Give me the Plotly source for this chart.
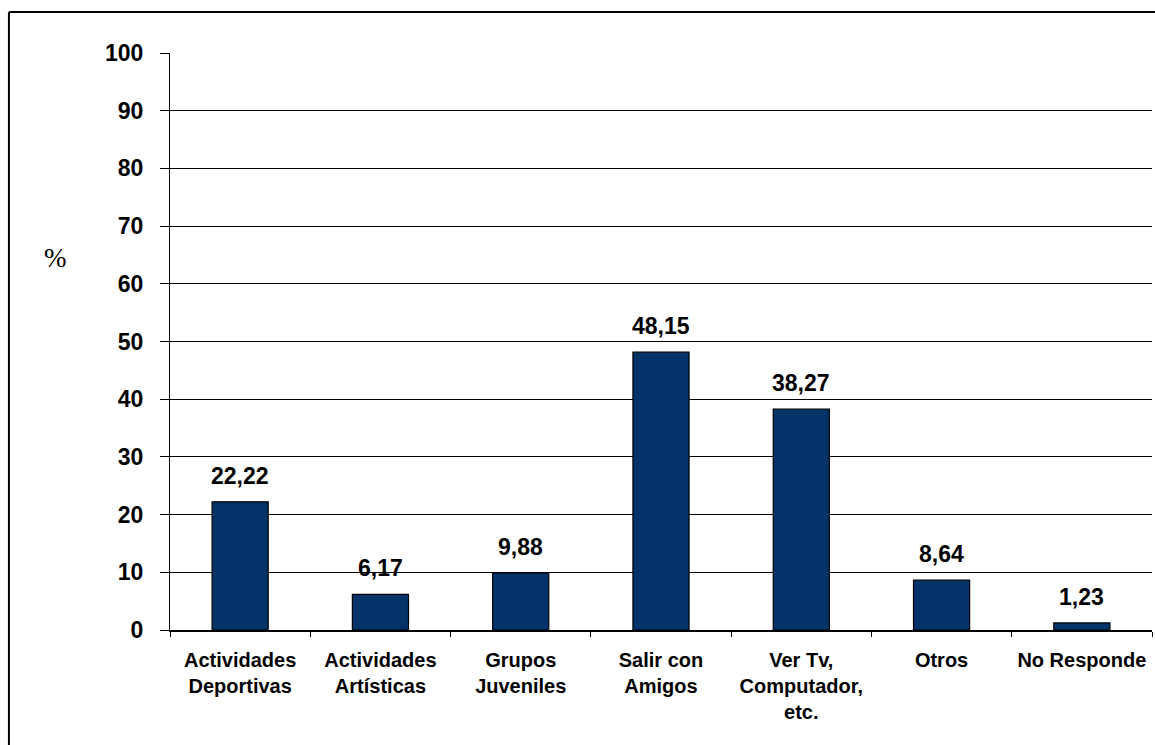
import plotly.graph_objects as go

categories = ["Actividades<br>Deportivas", "Actividades<br>Artísticas", "Grupos<br>Juveniles",
              "Salir con<br>Amigos", "Ver Tv,<br>Computador,<br>etc.", "Otros", "No Responde"]
values = [22.22, 6.17, 9.88, 48.15, 38.27, 8.64, 1.23]
y_ticks = [0, 10, 20, 30, 40, 50, 60, 70, 80, 90, 100]

BAR = "#04336a"
FONT = "Liberation Sans, Arial, sans-serif"

fig = go.Figure()
fig.add_trace(go.Bar(
    x=categories, y=values, width=0.4,
    marker=dict(color=BAR, line=dict(color="black", width=1.2)),
    cliponaxis=False,
))

for c, v in zip(categories, values):
    fig.add_annotation(x=c, y=v, text=f"{v:.2f}".replace(".", ","), showarrow=False,
                       yanchor="bottom", yshift=11,
                       font=dict(family=FONT, size=23, color="black", weight="bold"))

fig.update_layout(
    width=1155, height=745,
    margin=dict(l=170, r=3, t=53, b=115),
    paper_bgcolor="white", plot_bgcolor="white",
    separators=",.",
    showlegend=False,
    font=dict(family=FONT, color="black"),
)
fig.update_yaxes(
    range=[0, 100], tickvals=y_ticks, ticks="outside", ticklen=9, tickcolor="black", tickwidth=1,
    showline=True, linecolor="black", linewidth=1,
    showgrid=True, gridcolor="black", gridwidth=1, zeroline=False,
    tickfont=dict(family=FONT, size=23, color="black", weight="bold"),
    ticklabelstandoff=12,
)
fig.update_xaxes(
    type="category", tickson="boundaries", ticks="outside", ticklen=5, tickcolor="black",
    showline=True, linecolor="black", linewidth=1.5,
    tickfont=dict(family=FONT, size=20, color="black", weight="bold"),
    ticklabelstandoff=11,
)
# "%" axis label
fig.add_annotation(text="%", xref="paper", yref="paper", x=-0.13, y=0.645,
                   showarrow=False, font=dict(family="Liberation Serif, Times New Roman, serif", size=27, color="black"))
# chart border (left and top edges visible)
fig.add_shape(type="line", xref="paper", yref="paper", x0=-0.164, x1=-0.164, y0=-0.3, y1=1.071,
              line=dict(color="black", width=2))
fig.add_shape(type="line", xref="paper", yref="paper", x0=-0.164, x1=1.01, y0=1.071, y1=1.071,
              line=dict(color="black", width=2))

fig.write_html("out.html")
